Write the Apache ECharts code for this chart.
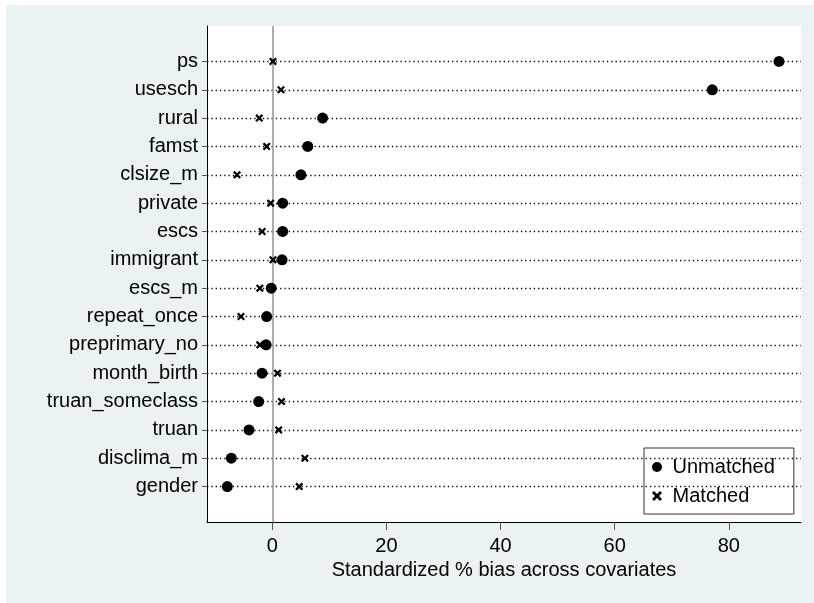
<!DOCTYPE html>
<html>
<head>
<meta charset="utf-8">
<script src="https://cdn.jsdelivr.net/npm/echarts@6/dist/echarts.min.js"></script>
<style>
html,body{margin:0;padding:0;background:#fff;}
#chart{width:814px;height:603px;}
</style>
</head>
<body>
<div id="chart"></div>
<script>
const categories = ['ps','usesch','rural','famst','clsize_m','private','escs','immigrant','escs_m','repeat_once','preprimary_no','month_birth','truan_someclass','truan','disclima_m','gender'];
const unmatched = [88.8,77.1,8.8,6.2,5.0,1.8,1.8,1.7,-0.2,-1.0,-1.1,-1.8,-2.4,-4.1,-7.2,-7.9];
const matched = [0.1,1.5,-2.3,-1.0,-6.2,-0.3,-1.8,0.1,-2.2,-5.5,-2.2,0.9,1.6,1.1,5.7,4.7];
const xTicks = [0,20,40,60,80];
const xTitle = 'Standardized % bias across covariates';
const seriesNames = ['Unmatched','Matched'];

const n = categories.length;
const catPos = categories.map((c,i)=>n-i);
const FONT = 'Liberation Sans, Arial, sans-serif';
const xPath = 'path://M0,2L2,0L5,3L8,0L10,2L7,5L10,8L8,10L5,7L2,10L0,8L3,5Z';

const chart = echarts.init(document.getElementById('chart'), null, {renderer:'canvas'});
const option = {
  animation:false,
  backgroundColor:'#fff',
  graphic:[{type:'rect', shape:{x:6,y:5,width:808,height:598}, style:{fill:'#EAF2F3'}, z:-100, silent:true}],
  grid:{left:207, right:13, top:26, bottom:81, show:true, backgroundColor:'#fff', borderWidth:0},
  legend:{
    orient:'vertical', left:644, top:448,
    padding:[9,19,8,8], itemGap:9, itemWidth:10, itemHeight:10,
    backgroundColor:'#fff', borderColor:'#333', borderWidth:1, borderRadius:0,
    textStyle:{fontFamily:FONT, fontSize:20, color:'#000'},
    formatter: name => ' ' + name,
    data:[{name:seriesNames[0], icon:'circle', itemStyle:{color:'#000', opacity:1}},
          {name:seriesNames[1], icon:xPath, itemStyle:{color:'#000', opacity:1}}]
  },
  xAxis:{
    type:'value', min:-11.46, max:92.65,
    axisLine:{show:true, onZero:false, lineStyle:{color:'#000', width:1}},
    axisTick:{show:true, customValues:xTicks, length:8, lineStyle:{color:'#555'}},
    axisLabel:{customValues:xTicks, fontFamily:FONT, fontSize:20, color:'#000', margin:14},
    splitLine:{show:false},
    name:xTitle, nameLocation:'middle', nameGap:34,
    nameTextStyle:{fontFamily:FONT, fontSize:20, color:'#000'}
  },
  yAxis:{
    type:'value', min:-0.25, max:17.25,
    axisLine:{show:true, onZero:false, lineStyle:{color:'#000', width:1}},
    axisTick:{show:true, customValues:catPos, length:5, lineStyle:{color:'#555'}},
    axisLabel:{customValues:catPos, formatter: v => categories[n - v], fontFamily:FONT, fontSize:20, color:'#000', margin:9},
    splitLine:{show:false}
  },
  series:[
    {
      name:seriesNames[0], type:'scatter', symbol:'circle', symbolSize:11,
      itemStyle:{color:'#000', opacity:1}, z:5,
      data: unmatched.map((v,i)=>[v, n-i]),
      markLine:{
        silent:true, symbol:['none','none'], label:{show:false},
        lineStyle:{type:[1.3,3], color:'#000', width:1.4, opacity:1},
        data: categories.map((c,i)=>({yAxis:n-i}))
      }
    },
    {
      name:seriesNames[1], type:'scatter', symbol:xPath, symbolSize:8,
      itemStyle:{color:'#000', opacity:1}, z:5,
      data: matched.map((v,i)=>[v, n-i]),
      markLine:{
        silent:true, symbol:['none','none'], label:{show:false},
        lineStyle:{type:'solid', color:'#9a9a9a', width:1.6, opacity:1},
        data:[{xAxis:0}]
      }
    }
  ]
};
chart.setOption(option);
</script>
</body>
</html>
